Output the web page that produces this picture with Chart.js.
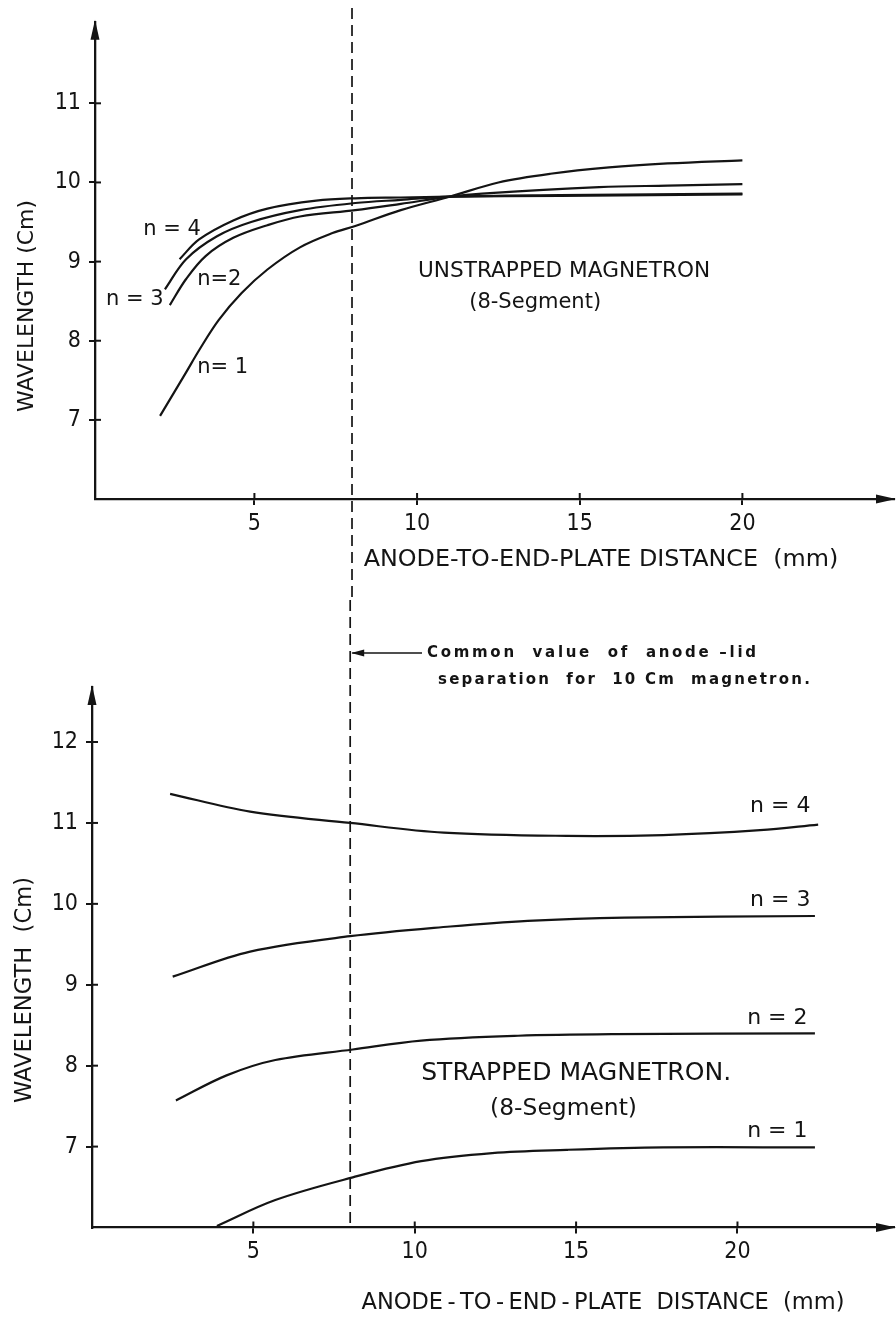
<!DOCTYPE html>
<html><head><meta charset="utf-8">
<script src="https://cdn.jsdelivr.net/npm/chart.js@4.4.1/dist/chart.umd.min.js"></script>
<style>
html,body{margin:0;padding:0;background:#fff;}
#wrap{position:relative;width:896px;height:1323px;overflow:hidden;background:#fff;}
#topBox{position:absolute;left:0;top:0;width:896px;height:600px;}
#botBox{position:absolute;left:0;top:600px;width:896px;height:723px;}
canvas{display:block;}
</style></head><body>
<div id="wrap">
<div id="topBox"><canvas id="topChart" width="896" height="600"></canvas></div>
<div id="botBox"><canvas id="botChart" width="896" height="723"></canvas></div>
</div>
<script>
// ---------- DATA ----------
// Unstrapped magnetron (8-segment): wavelength (cm) vs anode-to-end-plate distance (mm)
const unstrappedN1Dist = [2.1, 2.9, 3.3, 3.9, 4.6, 5.4, 6.4, 7.4, 8.1, 9.5, 11.0, 12.5, 14.1, 15.9, 17.7, 20.0];
const unstrappedN1Wave = [7.05, 7.60, 7.88, 8.26, 8.60, 8.90, 9.18, 9.36, 9.45, 9.65, 9.82, 10.00, 10.11, 10.19, 10.24, 10.28];
const unstrappedN2Dist = [2.4, 2.9, 3.5, 4.35, 5.4, 6.4, 8.1, 9.5, 11.0, 12.0, 15.6, 17.7, 20.0];
const unstrappedN2Wave = [8.45, 8.78, 9.07, 9.30, 9.46, 9.57, 9.65, 9.73, 9.82, 9.86, 9.94, 9.96, 9.98];
const unstrappedN3Dist = [2.25, 2.9, 3.85, 4.9, 6.4, 8.1, 9.5, 11.0, 14.4, 20.0];
const unstrappedN3Wave = [8.65, 9.03, 9.32, 9.50, 9.65, 9.74, 9.78, 9.82, 9.84, 9.86];
const unstrappedN4Dist = [2.7, 3.3, 4.35, 5.4, 6.9, 8.1, 9.5, 11.0, 14.4, 20.0];
const unstrappedN4Wave = [9.03, 9.28, 9.52, 9.67, 9.77, 9.80, 9.81, 9.82, 9.83, 9.85];

// Strapped magnetron (8-segment)
const strappedN1Dist = [3.87, 5.68, 8.08, 10.2, 12.4, 14.7, 17.7, 22.4];
const strappedN1Wave = [6.02, 6.34, 6.62, 6.82, 6.92, 6.96, 6.99, 6.99];
const strappedN2Dist = [2.6, 4.17, 5.68, 8.08, 10.2, 13.2, 16.2, 22.4];
const strappedN2Wave = [7.57, 7.88, 8.07, 8.20, 8.31, 8.37, 8.39, 8.40];
const strappedN3Dist = [2.5, 4.9, 8.0, 11.1, 13.5, 16.5, 22.4];
const strappedN3Wave = [9.10, 9.41, 9.60, 9.72, 9.79, 9.83, 9.85];
const strappedN4Dist = [2.42, 4.9, 8.0, 10.9, 14.7, 17.7, 20.7, 22.5];
const strappedN4Wave = [11.36, 11.14, 11.0, 10.88, 10.84, 10.85, 10.91, 10.98];

// Tick labels
const distanceTicks = [5, 10, 15, 20];
const topWaveTicks = [7, 8, 9, 10, 11];
const botWaveTicks = [7, 8, 9, 10, 11, 12];

// Common anode-lid separation (mm)
const commonSeparation = 8;

// ---------- STYLE / LAYOUT ----------
const INK = '#141414';
const TICK_FONT = "'DejaVu Sans Condensed','DejaVu Sans',sans-serif";
const TEXT_FONT = "'DejaVu Sans',sans-serif";

function pts(xs, ys){ return xs.map((x,i)=>({x:x, y:ys[i]})); }
function line(xs, ys){
  return {data: pts(xs, ys), showLine:true, borderColor:INK, borderWidth:2.2,
          pointRadius:0, fill:false, tension:0.35};
}

// font size such that text spans a given width
function fitFont(ctx, text, weight, family, width){
  ctx.font = weight + ' 100px ' + family;
  const w = ctx.measureText(text).width;
  return weight + ' ' + (100*width/w).toFixed(2) + 'px ' + family;
}

const extrasPlugin = {
  id:'extras',
  afterDraw(chart, args, o){
    const ctx = chart.ctx, a = chart.chartArea, xs = chart.scales.x, ys = chart.scales.y;
    ctx.save();
    ctx.strokeStyle = INK; ctx.fillStyle = INK;
    // inner parts of tick marks
    ctx.lineWidth = 2;
    xs.ticks.forEach(t=>{ const p = xs.getPixelForValue(t.value); ctx.beginPath(); ctx.moveTo(p, a.bottom); ctx.lineTo(p, a.bottom-6); ctx.stroke(); });
    ys.ticks.forEach(t=>{ const p = ys.getPixelForValue(t.value); ctx.beginPath(); ctx.moveTo(a.left, p); ctx.lineTo(a.left+6, p); ctx.stroke(); });
    // arrow heads
    ctx.beginPath(); ctx.moveTo(a.left, a.top-2); ctx.lineTo(a.left-4.5, a.top+18); ctx.lineTo(a.left+4.5, a.top+18); ctx.closePath(); ctx.fill();
    ctx.beginPath(); ctx.moveTo(a.right+2, a.bottom); ctx.lineTo(a.right-18, a.bottom-4.5); ctx.lineTo(a.right-18, a.bottom+4.5); ctx.closePath(); ctx.fill();
    // dashed common separation line
    const dx = xs.getPixelForValue(commonSeparation);
    ctx.lineWidth = 1.7; ctx.setLineDash([11,6]);
    ctx.beginPath(); ctx.moveTo(dx, o.dashFrom); ctx.lineTo(dx, o.dashTo === 'axis' ? a.bottom : o.dashTo); ctx.stroke();
    ctx.setLineDash([]);
    // curve / chart labels anchored in data coordinates
    ctx.textBaseline = 'middle';
    (o.labels||[]).forEach(l=>{
      ctx.font = l.width ? fitFont(ctx, l.text, '', TEXT_FONT, l.width) : l.font;
      ctx.textAlign = l.align || 'left';
      ctx.fillText(l.text, xs.getPixelForValue(l.x), ys.getPixelForValue(l.y));
    });
    // axis titles
    ctx.textAlign = 'center';
    ctx.font = fitFont(ctx, o.xTitle.text, '', TEXT_FONT, o.xTitle.width);
    ctx.fillText(o.xTitle.text, o.xTitle.cx, o.xTitle.cy);
    ctx.save(); ctx.translate(o.yTitle.cx, o.yTitle.cy); ctx.rotate(-Math.PI/2);
    ctx.font = fitFont(ctx, o.yTitle.text, '', TEXT_FONT, o.yTitle.width);
    ctx.fillText(o.yTitle.text, 0, 0); ctx.restore();
    // annotation
    if (o.note){
      const n = o.note;
      ctx.lineWidth = 1.7;
      ctx.beginPath(); ctx.moveTo(n.lineEnd, n.y); ctx.lineTo(dx+2, n.y); ctx.stroke();
      ctx.beginPath(); ctx.moveTo(dx+1, n.y); ctx.lineTo(dx+14, n.y-3.5); ctx.lineTo(dx+14, n.y+3.5); ctx.closePath(); ctx.fill();
      ctx.textAlign = 'left';
      n.lines.forEach(l=>{
        ctx.font = n.font;
        let sp = 0;
        if ('letterSpacing' in ctx){
          ctx.letterSpacing = '0px';
          const w = ctx.measureText(l.text).width;
          sp = Math.max(0, (l.width - w) / (l.text.length - 1));
          ctx.letterSpacing = sp.toFixed(2) + 'px';
        }
        ctx.fillText(l.text, l.x, l.y);
        if ('letterSpacing' in ctx) ctx.letterSpacing = '0px';
      });
    }
    ctx.restore();
  }
};

function axisCfg(min, max, tickVals, fitFn, isX){
  return {
    type:'linear', min:min, max:max,
    afterBuildTicks: s => { s.ticks = tickVals.map(v=>({value:v})); },
    afterFit: fitFn,
    grid:{display:true, drawOnChartArea:false, drawTicks:true, tickLength:6, color:INK, lineWidth:2},
    border:{display:true, color:INK, width:2.3},
    ticks:{color:INK, font:{family:TICK_FONT, size:23}, padding: isX ? 5 : 8, maxRotation:0, autoSkip:false, callback:v=>String(v)}
  };
}

function makeChart(id, datasets, scales, padding, extras){
  return new Chart(document.getElementById(id), {
    type:'scatter',
    data:{datasets:datasets},
    options:{
      responsive:false, animation:false, devicePixelRatio:1,
      layout:{padding:padding},
      plugins:{legend:{display:false}, tooltip:{enabled:false}, extras:extras},
      scales:scales
    },
    plugins:[extrasPlugin]
  });
}

const LABEL_FONT = "22px " + TEXT_FONT;
const SMALL_LABEL_FONT = "21px " + TEXT_FONT;

makeChart('topChart',
  [line(unstrappedN1Dist, unstrappedN1Wave), line(unstrappedN2Dist, unstrappedN2Wave),
   line(unstrappedN3Dist, unstrappedN3Wave), line(unstrappedN4Dist, unstrappedN4Wave)],
  {
    x: axisCfg(0.1, 24.66, distanceTicks, s=>{ s.height = 101; }, true),
    y: axisCfg(6, 12.03, topWaveTicks, s=>{ s.width = 95; }, false)
  },
  {left:0, right:2, top:15, bottom:0},
  {
    dashFrom: 8, dashTo: 600,
    xTitle:{text:'ANODE-TO-END-PLATE DISTANCE  (mm)', cx:601, cy:560, width:475},
    yTitle:{text:'WAVELENGTH (Cm)', cx:27, cy:306, width:212},
    labels:[
      {text:'n = 4', x:1.58, y:9.41, font:SMALL_LABEL_FONT},
      {text:'n = 3', x:0.44, y:8.52, font:SMALL_LABEL_FONT},
      {text:'n=2', x:3.24, y:8.77, font:SMALL_LABEL_FONT},
      {text:'n= 1', x:3.24, y:7.66, font:SMALL_LABEL_FONT},
      {text:'UNSTRAPPED MAGNETRON', x:10.03, y:8.88, width:292},
      {text:'(8-Segment)', x:13.63, y:8.48, width:132, align:'center'}
    ]
  });

makeChart('botChart',
  [line(strappedN1Dist, strappedN1Wave), line(strappedN2Dist, strappedN2Wave),
   line(strappedN3Dist, strappedN3Wave), line(strappedN4Dist, strappedN4Wave)],
  {
    x: axisCfg(0, 24.85, distanceTicks, s=>{ s.height = 95.5; }, true),
    y: axisCfg(6, 12.68, botWaveTicks, s=>{ s.width = 92; }, false)
  },
  {left:0, right:2, top:87, bottom:0},
  {
    dashFrom: 0, dashTo: 'axis',
    xTitle:{text:'ANODE\u2009-\u2009TO\u2009-\u2009END\u2009-\u2009PLATE  DISTANCE  (mm)', cx:603, cy:703, width:483},
    yTitle:{text:'WAVELENGTH  (Cm)', cx:25, cy:390, width:226},
    labels:[
      {text:'n = 4', x:20.39, y:11.2, font:LABEL_FONT},
      {text:'n = 3', x:20.39, y:10.05, font:LABEL_FONT},
      {text:'n = 2', x:20.3, y:8.59, font:LABEL_FONT},
      {text:'n = 1', x:20.3, y:7.19, font:LABEL_FONT},
      {text:'STRAPPED MAGNETRON.', x:10.2, y:7.90, width:310},
      {text:'(8-Segment)', x:14.61, y:7.47, width:147, align:'center'}
    ],
    note:{
      y:53, lineEnd:422, font:"bold 15px " + TEXT_FONT,
      lines:[{text:'Common  value  of  anode \u2013lid', x:427, y:53, width:329},
             {text:'separation  for  10 Cm  magnetron.', x:438, y:80, width:372}]
    }
  });
</script>
</body></html>
